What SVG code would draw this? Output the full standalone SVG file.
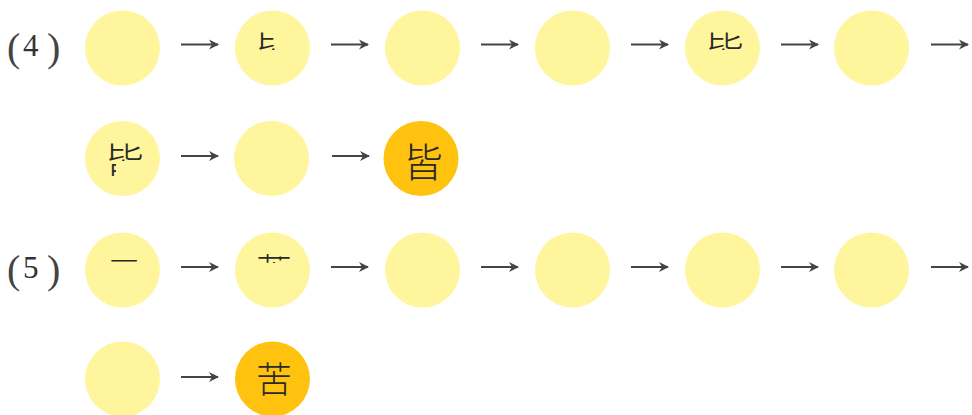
<svg xmlns="http://www.w3.org/2000/svg" width="972" height="415" viewBox="0 0 972 415">
<style>
.c{fill:#FFF59D}
.f{fill:#FFC20E}
.lbl{font-family:"Liberation Serif","Times New Roman",serif;fill:#333}
.par{font-weight:300;fill:#444}
.ch{font-family:"Noto Sans CJK SC","Noto Sans CJK JP",sans-serif;font-weight:300;fill:#2a2a2a;text-anchor:middle}
.a{stroke:#444;stroke-width:2;fill:none;marker-end:url(#ah)}
</style>
<defs>
<marker id="ah" markerWidth="12" markerHeight="12" refX="9" refY="6" orient="auto" markerUnits="userSpaceOnUse">
<path d="M0,1 L10,6 L0,11 L3,6 Z" fill="#444"/>
</marker>
<clipPath id="k2" clipPathUnits="userSpaceOnUse"><rect x="258" y="30" width="17" height="20"/></clipPath>
<clipPath id="k5" clipPathUnits="userSpaceOnUse"><rect x="700" y="30" width="50" height="20"/></clipPath>
<clipPath id="k7" clipPathUnits="userSpaceOnUse"><rect x="100" y="140" width="50" height="21"/><rect x="100" y="160" width="16" height="16"/></clipPath>
<clipPath id="k9" clipPathUnits="userSpaceOnUse"><rect x="255" y="254" width="23" height="9"/><rect x="278" y="256.5" width="14" height="4"/></clipPath>
</defs>

<g id="label4"><text class="lbl par" x="7" y="61" font-size="40">(</text><text class="lbl" x="23" y="56" font-size="31">4</text><text class="lbl par" x="47" y="61" font-size="40">)</text></g>
<g id="label5"><text class="lbl par" x="7" y="283" font-size="40">(</text><text class="lbl" x="23" y="278" font-size="31">5</text><text class="lbl par" x="47" y="283" font-size="40">)</text></g>

<g id="n1"><circle class="c" cx="122.5" cy="48" r="37.5"/></g>
<g id="n2"><circle class="c" cx="272.5" cy="48" r="37.5"/><text class="ch" x="274" y="66" font-size="40" clip-path="url(#k2)">皆</text></g>
<g id="n3"><circle class="c" cx="422.5" cy="48" r="37.5"/></g>
<g id="n4"><circle class="c" cx="572.5" cy="48" r="37.5"/></g>
<g id="n5"><circle class="c" cx="722.5" cy="48" r="37.5"/><text class="ch" x="724" y="66" font-size="40" clip-path="url(#k5)">皆</text></g>
<g id="n6"><circle class="c" cx="871.5" cy="48" r="37.5"/></g>
<g id="n7"><circle class="c" cx="122.5" cy="158.5" r="37.5"/><text class="ch" x="124" y="177" font-size="40" clip-path="url(#k7)">皆</text></g>
<g id="n8"><circle class="c" cx="271.5" cy="158.5" r="37.5"/></g>
<g id="n9"><circle class="f" cx="421" cy="158.5" r="37.5"/><text class="ch" x="423" y="177" font-size="40">皆</text></g>

<g id="m1"><circle class="c" cx="122.5" cy="270" r="37.5"/><text class="ch" x="124" y="272" font-size="28">一</text></g>
<g id="m2"><circle class="c" cx="272.5" cy="270" r="37.5"/><text class="ch" x="274" y="284" font-size="36" clip-path="url(#k9)">苦</text></g>
<g id="m3"><circle class="c" cx="422.5" cy="270" r="37.5"/></g>
<g id="m4"><circle class="c" cx="572.5" cy="270" r="37.5"/></g>
<g id="m5"><circle class="c" cx="722.5" cy="270" r="37.5"/></g>
<g id="m6"><circle class="c" cx="871.5" cy="270" r="37.5"/></g>
<g id="m7"><circle class="c" cx="122.5" cy="379" r="37.5"/></g>
<g id="m8"><circle class="f" cx="272.5" cy="379" r="37.5"/><text class="ch" x="274" y="393" font-size="36">苦</text></g>

<g id="connectors">
<line class="a" x1="181" y1="44.5" x2="218" y2="44.5"/>
<line class="a" x1="331" y1="44.5" x2="368" y2="44.5"/>
<line class="a" x1="481" y1="44.5" x2="518" y2="44.5"/>
<line class="a" x1="631" y1="44.5" x2="668" y2="44.5"/>
<line class="a" x1="781" y1="44.5" x2="818" y2="44.5"/>
<line class="a" x1="931" y1="44.5" x2="968" y2="44.5"/>
<line class="a" x1="181" y1="156" x2="218" y2="156"/>
<line class="a" x1="332" y1="156" x2="369" y2="156"/>
<line class="a" x1="181" y1="267" x2="218" y2="267"/>
<line class="a" x1="331" y1="267" x2="368" y2="267"/>
<line class="a" x1="481" y1="267" x2="518" y2="267"/>
<line class="a" x1="631" y1="267" x2="668" y2="267"/>
<line class="a" x1="781" y1="267" x2="818" y2="267"/>
<line class="a" x1="931" y1="267" x2="968" y2="267"/>
<line class="a" x1="181" y1="377" x2="218" y2="377"/>
</g>
</svg>
